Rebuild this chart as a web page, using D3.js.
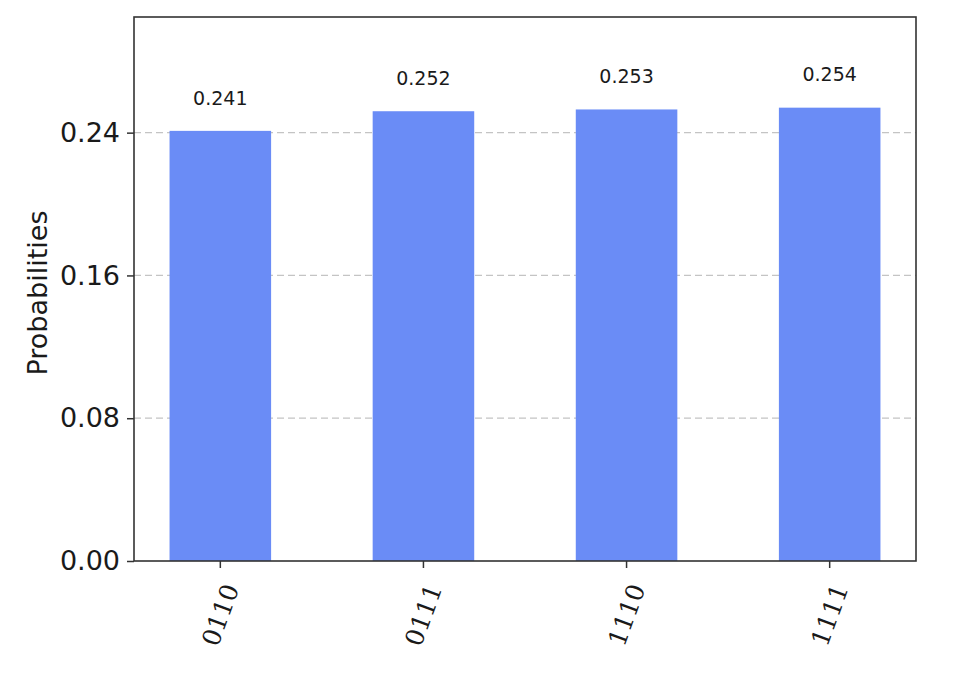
<!DOCTYPE html>
<html>
<head>
<meta charset="utf-8">
<script src="https://cdn.jsdelivr.net/npm/d3@7"></script>
<style>
  body { margin: 0; background: #fff; }
  svg { display: block; }
</style>
</head>
<body>
<svg id="chart" width="972" height="674"></svg>
<script>
// data
var states = ["0110", "0111", "1110", "1111"];
var probs = [0.241, 0.252, 0.253, 0.254];
var yTicks = [0, 0.08, 0.16, 0.24];

var W = 972, H = 674;
var margin = {left: 134, right: 56, top: 17, bottom: 113};
var x0 = margin.left, x1 = W - margin.right;
var y0 = H - margin.bottom, y1 = margin.top;

var svg = d3.select("svg#chart");

var x = d3.scaleBand()
    .domain(states)
    .range([x0, x1])
    .paddingInner(0.5)
    .paddingOuter(0.175);

var y = d3.scaleLinear()
    .domain([0, d3.max(probs) * 1.2])
    .range([y0, y1]);

// grid
svg.append("g").selectAll("line")
    .data(yTicks.filter(function(d) { return d > 0; }))
    .enter().append("line")
    .attr("x1", x0).attr("x2", x1)
    .attr("y1", function(d) { return y(d); })
    .attr("y2", function(d) { return y(d); })
    .attr("stroke", "#c4c4c4")
    .attr("stroke-width", 1.2)
    .attr("stroke-dasharray", "7,4");

// bars
svg.append("g").selectAll("rect")
    .data(probs)
    .enter().append("rect")
    .attr("x", function(d, i) { return x(states[i]); })
    .attr("width", x.bandwidth())
    .attr("y", function(d) { return y(d); })
    .attr("height", function(d) { return y0 - y(d); })
    .attr("fill", "#6a8cf6");

// value labels, placed at 1.05 * value like the original
svg.append("g").selectAll("text")
    .data(probs)
    .enter().append("text")
    .attr("x", function(d, i) { return x(states[i]) + x.bandwidth() / 2; })
    .attr("y", function(d) { return y(d * 1.05) - 4; })
    .attr("text-anchor", "middle")
    .attr("font-family", "DejaVu Sans")
    .attr("font-size", 19)
    .attr("fill", "#1a1a1a")
    .text(function(d) { return d.toFixed(3); });

// y axis
var yAxis = d3.axisLeft(y)
    .tickValues(yTicks)
    .tickSize(7)
    .tickPadding(7)
    .tickFormat(d3.format(".2f"));

var gy = svg.append("g")
    .attr("transform", "translate(" + x0 + ",0)")
    .call(yAxis);
gy.select(".domain").remove();
gy.selectAll("line").attr("stroke", "#333").attr("stroke-width", 1.5);
gy.selectAll("text")
    .attr("font-family", "DejaVu Sans")
    .attr("font-size", 27)
    .attr("fill", "#1a1a1a");

// x axis
var xAxis = d3.axisBottom(x).tickSize(7).tickFormat("");
var gx = svg.append("g")
    .attr("transform", "translate(0," + y0 + ")")
    .call(xAxis);
gx.select(".domain").remove();
gx.selectAll("line").attr("stroke", "#333").attr("stroke-width", 1.5);

// rotated x tick labels (70 degrees, centred under the tick)
var xl = svg.append("g").selectAll("text")
    .data(states)
    .enter().append("text")
    .attr("font-family", "DejaVu Serif")
    .attr("font-size", 25)
    .attr("fill", "#1a1a1a")
    .attr("text-anchor", "end")
    .attr("dy", "0.35em")
    .text(function(d) { return d; });

xl.attr("transform", function(d) {
    var L = this.getComputedTextLength();
    var cx = x(d) + x.bandwidth() / 2 + 0.342 * L / 2;
    return "translate(" + cx + "," + (y0 + 24) + ") rotate(-70)";
});

// frame
svg.append("rect")
    .attr("x", x0).attr("y", y1)
    .attr("width", x1 - x0).attr("height", y0 - y1)
    .attr("fill", "none")
    .attr("stroke", "#333")
    .attr("stroke-width", 1.6);

// y label
svg.append("text")
    .attr("transform", "translate(47," + ((y0 + y1) / 2 + 4) + ") rotate(-90)")
    .attr("text-anchor", "middle")
    .attr("font-family", "DejaVu Sans")
    .attr("font-size", 27)
    .attr("fill", "#1a1a1a")
    .text("Probabilities");
</script>
</body>
</html>
